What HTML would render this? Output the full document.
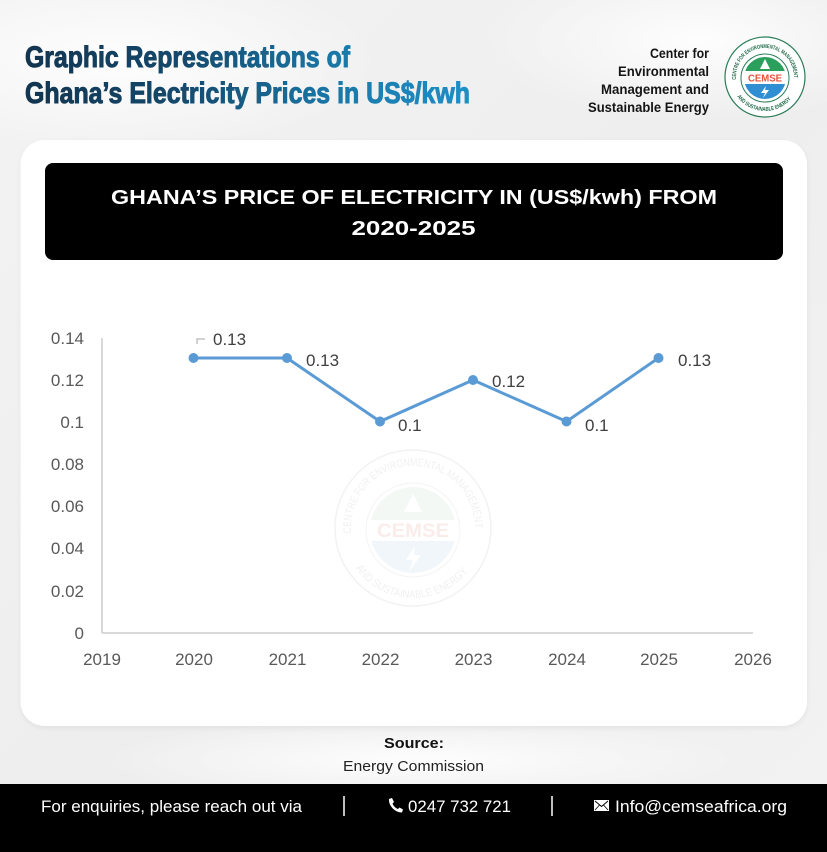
<!DOCTYPE html>
<html>
<head>
<meta charset="utf-8">
<style>
  html,body{margin:0;padding:0;background:#f0f0f0;}
  svg{display:block;}
  text{font-family:"Liberation Sans",sans-serif;}
</style>
</head>
<body>
<svg width="827" height="852" viewBox="0 0 827 852" xmlns="http://www.w3.org/2000/svg">
  <defs>
    <linearGradient id="bg" x1="0" y1="0" x2="1" y2="1">
      <stop offset="0" stop-color="#f3f3f3"/>
      <stop offset="0.5" stop-color="#eeeeee"/>
      <stop offset="1" stop-color="#f2f2f2"/>
    </linearGradient>
    <radialGradient id="hl1" cx="0.5" cy="0.5" r="0.5">
      <stop offset="0" stop-color="#ffffff" stop-opacity="0.9"/>
      <stop offset="1" stop-color="#ffffff" stop-opacity="0"/>
    </radialGradient>
    <linearGradient id="tg" gradientUnits="userSpaceOnUse" x1="25" y1="0" x2="470" y2="0">
      <stop offset="0" stop-color="#123550"/>
      <stop offset="0.35" stop-color="#15496c"/>
      <stop offset="0.7" stop-color="#1a78a8"/>
      <stop offset="1" stop-color="#1e8fc6"/>
    </linearGradient>
    <clipPath id="innerClip"><circle cx="765" cy="78" r="21"/></clipPath>
    <clipPath id="wmClip"><circle cx="413" cy="530" r="43"/></clipPath>
    <path id="lgTop" d="M736.11,79.53 A29,29 0 1 1 793.89,79.53"/>
    <path id="lgBot" d="M737.15,96.5 A34,34 0 0 0 792.85,96.5"/>
    <path id="wmTop" d="M351.24,533.4 A62,62 0 1 1 474.76,533.4"/>
    <path id="wmBot" d="M355.66,568.15 A70,70 0 0 0 470.34,568.15"/>
    <filter id="sh" x="-5%" y="-5%" width="110%" height="110%">
      <feGaussianBlur stdDeviation="3"/>
    </filter>
  </defs>

  <!-- background -->
  <rect x="0" y="0" width="827" height="852" fill="url(#bg)"/>
  <ellipse cx="120" cy="60" rx="260" ry="90" fill="url(#hl1)"/>
  <ellipse cx="700" cy="40" rx="220" ry="80" fill="url(#hl1)"/>
  <ellipse cx="420" cy="760" rx="320" ry="40" fill="url(#hl1)"/>
  <ellipse cx="60" cy="400" rx="40" ry="300" fill="url(#hl1)" opacity="0.5"/>

  <!-- header title -->
  <text x="25" y="67" font-size="30" font-weight="bold" fill="url(#tg)" stroke="url(#tg)" stroke-width="1" textLength="325" lengthAdjust="spacingAndGlyphs">Graphic Representations of</text>
  <text x="25" y="103" font-size="30" font-weight="bold" fill="url(#tg)" stroke="url(#tg)" stroke-width="1" textLength="445" lengthAdjust="spacingAndGlyphs">Ghana’s Electricity Prices in US$/kwh</text>

  <!-- right header -->
  <g font-size="14" font-weight="bold" fill="#151515" text-anchor="end">
    <text x="709" y="58" textLength="59" lengthAdjust="spacingAndGlyphs">Center for</text>
    <text x="709" y="76" textLength="91" lengthAdjust="spacingAndGlyphs">Environmental</text>
    <text x="709" y="94" textLength="108" lengthAdjust="spacingAndGlyphs">Management and</text>
    <text x="709" y="112" textLength="121" lengthAdjust="spacingAndGlyphs">Sustainable Energy</text>
  </g>

  <!-- logo -->
  <g>
    <circle cx="765" cy="77" r="40" fill="#ffffff" stroke="#2b7d5a" stroke-width="1.2"/>
    <text font-size="5.6" font-weight="bold" fill="#1f6a48"><textPath href="#lgTop" textLength="94" lengthAdjust="spacingAndGlyphs">CENTRE FOR ENVIRONMENTAL MANAGEMENT</textPath></text>
    <text font-size="5.6" font-weight="bold" fill="#1f6a48"><textPath href="#lgBot" textLength="62" lengthAdjust="spacingAndGlyphs">AND SUSTAINABLE ENERGY</textPath></text>
    <circle cx="765" cy="78" r="24" fill="none" stroke="#2b7d5a" stroke-width="1"/>
    <g clip-path="url(#innerClip)">
      <rect x="740" y="50" width="50" height="21" fill="#2aa05c"/>
      <rect x="740" y="71" width="50" height="13" fill="#ffffff"/>
      <rect x="740" y="84" width="50" height="20" fill="#2f8fd2"/>
    </g>
    <polygon points="765,59 760,69 770,69" fill="#ffffff"/>
    <text x="765" y="81.5" font-size="10" font-weight="bold" fill="#e4533b" text-anchor="middle" textLength="34" lengthAdjust="spacingAndGlyphs">CEMSE</text>
    <polygon points="766,86 761,93 765,93 763,98 769,90 765,90" fill="#ffffff"/>
  </g>

  <!-- card -->
  <rect x="21" y="142" width="786" height="586" rx="24" fill="#000" opacity="0.06" filter="url(#sh)"/>
  <rect x="20.5" y="140" width="786.5" height="586" rx="24" fill="#ffffff"/>

  <!-- title box -->
  <rect x="45" y="163" width="738" height="97" rx="8" fill="#000000"/>
  <text x="414" y="204" font-size="20" font-weight="bold" fill="#ffffff" text-anchor="middle" textLength="606" lengthAdjust="spacingAndGlyphs">GHANA’S PRICE OF ELECTRICITY IN (US$/kwh) FROM</text>
  <text x="413.5" y="235" font-size="20" font-weight="bold" fill="#ffffff" text-anchor="middle" textLength="124" lengthAdjust="spacingAndGlyphs">2020-2025</text>

  <!-- watermark -->
  <g opacity="0.5">
    <circle cx="413" cy="528" r="78" fill="none" stroke="#e6e6e6" stroke-width="1.5"/>
    <text font-size="11" fill="#e2e2e2"><textPath href="#wmTop" textLength="200" lengthAdjust="spacingAndGlyphs">CENTRE FOR ENVIRONMENTAL MANAGEMENT</textPath></text>
    <text font-size="11" fill="#e2e2e2"><textPath href="#wmBot" textLength="130" lengthAdjust="spacingAndGlyphs">AND SUSTAINABLE ENERGY</textPath></text>
    <circle cx="413" cy="530" r="47" fill="none" stroke="#e8e8e8" stroke-width="1"/>
    <g clip-path="url(#wmClip)">
      <rect x="365" y="485" width="100" height="35" fill="#e8f2ec"/>
      <rect x="365" y="520" width="100" height="21" fill="#ffffff"/>
      <rect x="365" y="541" width="100" height="35" fill="#e3eef6"/>
    </g>
    <polygon points="413,494 404,512 422,512" fill="#ffffff"/>
    <text x="413" y="537" font-size="19" font-weight="bold" fill="#f7dcd5" text-anchor="middle" textLength="72" lengthAdjust="spacingAndGlyphs">CEMSE</text>
    <polygon points="415,546 406,560 413,560 409,572 421,555 414,555" fill="#ffffff"/>
  </g>

  <!-- axes -->
  <line x1="102" y1="338" x2="102" y2="633" stroke="#d9d9d9" stroke-width="2"/>
  <line x1="102" y1="633" x2="753" y2="633" stroke="#d9d9d9" stroke-width="2"/>

  <!-- y tick labels -->
  <g font-size="17" fill="#595959" text-anchor="end">
    <text x="84" y="344">0.14</text>
    <text x="84" y="386">0.12</text>
    <text x="84" y="428">0.1</text>
    <text x="84" y="470">0.08</text>
    <text x="84" y="512">0.06</text>
    <text x="84" y="554">0.04</text>
    <text x="84" y="597">0.02</text>
    <text x="84" y="639">0</text>
  </g>

  <!-- x tick labels -->
  <g font-size="17" fill="#595959" text-anchor="middle">
    <text x="102" y="665">2019</text>
    <text x="194" y="665">2020</text>
    <text x="287.5" y="665">2021</text>
    <text x="380.5" y="665">2022</text>
    <text x="473.5" y="665">2023</text>
    <text x="567" y="665">2024</text>
    <text x="659" y="665">2025</text>
    <text x="753" y="665">2026</text>
  </g>

  <!-- series -->
  <polyline points="193.5,358 287,358 380,421.5 473,380 566.5,421.5 658.5,358" fill="none" stroke="#5b9bd5" stroke-width="3" stroke-linejoin="round"/>
  <g fill="#5b9bd5">
    <circle cx="193.5" cy="358" r="5"/>
    <circle cx="287" cy="358" r="5"/>
    <circle cx="380" cy="421.5" r="5"/>
    <circle cx="473" cy="380" r="5"/>
    <circle cx="566.5" cy="421.5" r="5"/>
    <circle cx="658.5" cy="358" r="5"/>
  </g>

  <!-- leader line -->
  <polyline points="197,344 197,339 205,339" fill="none" stroke="#a6a6a6" stroke-width="1"/>

  <!-- data labels -->
  <g font-size="17" fill="#404040">
    <text x="213" y="345">0.13</text>
    <text x="306" y="366">0.13</text>
    <text x="398" y="431">0.1</text>
    <text x="492" y="387">0.12</text>
    <text x="585" y="431">0.1</text>
    <text x="678" y="366">0.13</text>
  </g>

  <!-- source -->
  <text x="414" y="748" font-size="15" font-weight="bold" fill="#111" text-anchor="middle" textLength="60" lengthAdjust="spacingAndGlyphs">Source:</text>
  <text x="413.5" y="771" font-size="15" fill="#222" text-anchor="middle" textLength="141" lengthAdjust="spacingAndGlyphs">Energy Commission</text>

  <!-- footer -->
  <rect x="0" y="784" width="827" height="68" fill="#000000"/>
  <g font-size="17" fill="#ffffff">
    <text x="41" y="812" textLength="261" lengthAdjust="spacingAndGlyphs">For enquiries, please reach out via</text>
    <text x="408" y="812" textLength="103" lengthAdjust="spacingAndGlyphs">0247 732 721</text>
    <text x="615" y="812" textLength="172" lengthAdjust="spacingAndGlyphs">Info@cemseafrica.org</text>
  </g>
  <line x1="344" y1="796" x2="344" y2="816" stroke="#ffffff" stroke-width="1.5"/>
  <line x1="552" y1="796" x2="552" y2="816" stroke="#ffffff" stroke-width="1.5"/>
  <!-- phone icon -->
  <path d="M389,799 L392,798 L394,802 L392.5,803.5 C393.5,806 395.5,808 398,809 L399.5,807.5 L403,809.5 L402,812.5 C395,812.5 388.5,806 389,799 Z" fill="#ffffff"/>
  <!-- email icon -->
  <rect x="594" y="800" width="15" height="11" fill="#ffffff"/>
  <polyline points="595,801 601.5,806.5 608,801" fill="none" stroke="#000" stroke-width="1"/>
  <line x1="595" y1="810" x2="599.5" y2="805" stroke="#000" stroke-width="0.8"/>
  <line x1="608" y1="810" x2="603.5" y2="805" stroke="#000" stroke-width="0.8"/>
</svg>
</body>
</html>
